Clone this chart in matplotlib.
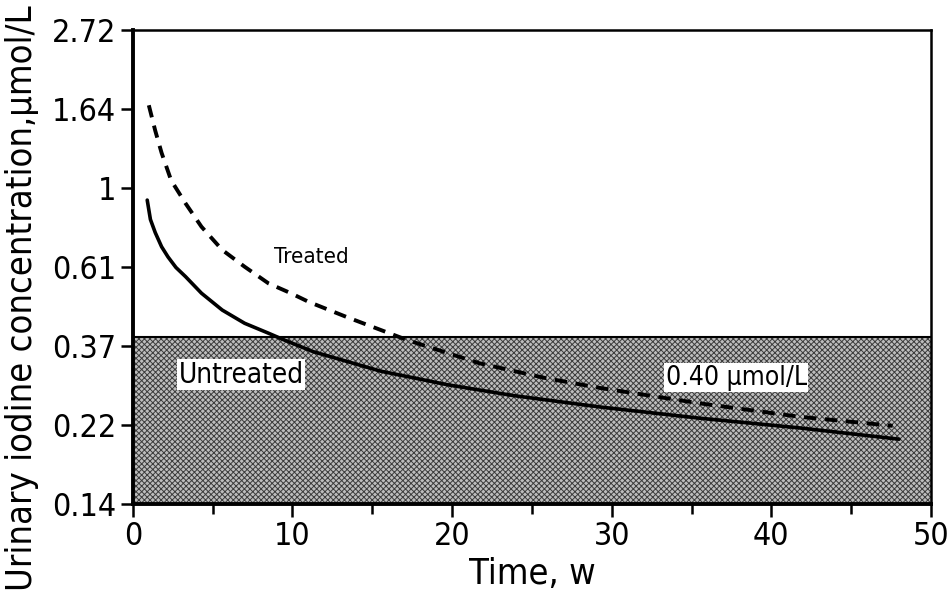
import numpy as np
import matplotlib
matplotlib.use("Agg")
import matplotlib.pyplot as plt

# values (weeks, umol/L)
untreated_weeks = [0.9, 1.1, 1.4, 1.8, 2.2, 2.7, 3.3, 4.3, 5.6, 7.0, 8.5, 9.5, 11.3, 15.5,
                   19.7, 23.8, 29.3, 35.5, 41.8, 48]
untreated_conc = [0.927, 0.82, 0.755, 0.69, 0.647, 0.605, 0.571, 0.514, 0.462, 0.425,
                  0.399, 0.382, 0.355, 0.314, 0.288, 0.269, 0.250, 0.233, 0.219, 0.204]

treated_weeks = [1.0, 1.4, 1.8, 2.4, 3.3, 4.3, 5.6, 7.0, 8.5, 9.9, 11.0, 13.4, 17.2,
                 21.7, 25.9, 29.3, 35.5, 41.8, 47.6]
treated_conc = [1.69, 1.44, 1.25, 1.05, 0.908, 0.783, 0.676, 0.608, 0.547, 0.514,
                0.487, 0.442, 0.382, 0.330, 0.300, 0.282, 0.256, 0.235, 0.222]

threshold = 0.39
ytick_exps = [-2, -1.5, -1, -0.5, 0, 0.5, 1]
ytick_labels = ["0.14", "0.22", "0.37", "0.61", "1", "1.64", "2.72"]
xticks_major = [0, 10, 20, 30, 40, 50]

plt.rcParams['font.family'] = ['DejaVu Sans']
plt.rcParams['font.stretch'] = 'condensed'
plt.rcParams['hatch.linewidth'] = 0.7

fig = plt.figure(figsize=(9.49, 6.04), dpi=100)
ax = fig.add_axes([0.140, 0.1656, 0.841, 0.7844])

ymin, ymax = np.exp(ytick_exps[0]), np.exp(ytick_exps[-1])
ax.set_yscale('log')
ax.set_xlim(0, 50)
ax.set_ylim(ymin, ymax)

# shaded region below the threshold
ax.fill_between([0, 50], ymin, threshold, facecolor='#bdbdbd', edgecolor='#3c3c3c',
                hatch='xxxxxx', linewidth=0, zorder=1)
ax.plot([0, 50], [threshold, threshold], color='black', lw=1.5, zorder=2)

ax.plot(untreated_weeks, untreated_conc, color='black', lw=2.6, zorder=3,
        solid_capstyle='round', solid_joinstyle='round')
ax.plot(treated_weeks, treated_conc, color='black', lw=2.8, ls=(0, (3.2, 2.2)), zorder=3)

ax.text(11.2, 0.645, "Treated", fontsize=16, ha='center', va='center', zorder=4)
ax.text(6.8, 0.307, "Untreated", fontsize=20, ha='center', va='center', zorder=4,
        bbox=dict(facecolor='white', edgecolor='none', pad=1.0))
ax.text(37.8, 0.301, "0.40 µmol/L", fontsize=19, ha='center', va='center', zorder=4,
        bbox=dict(facecolor='white', edgecolor='none', pad=1.0))

ax.set_yticks(np.exp(ytick_exps))
ax.set_yticklabels(ytick_labels)
ax.yaxis.set_minor_locator(matplotlib.ticker.NullLocator())
ax.set_xticks(xticks_major)
ax.set_xticks(np.arange(5, 50, 10), minor=True)

ax.tick_params(axis='both', which='both', direction='out', width=1.8, labelsize=23,
               length=9, pad=3)
ax.tick_params(axis='x', which='minor', length=7)

for side in ['left', 'bottom']:
    ax.spines[side].set_linewidth(2.8)
for side in ['top', 'right']:
    ax.spines[side].set_linewidth(1.8)

ax.set_xlabel("Time, w", fontsize=26, labelpad=4)
ax.set_ylabel("Urinary iodine concentration,µmol/L", fontsize=26)
ax.yaxis.set_label_coords(-0.117, 0.435)

fig.savefig("out.png", dpi=100)
